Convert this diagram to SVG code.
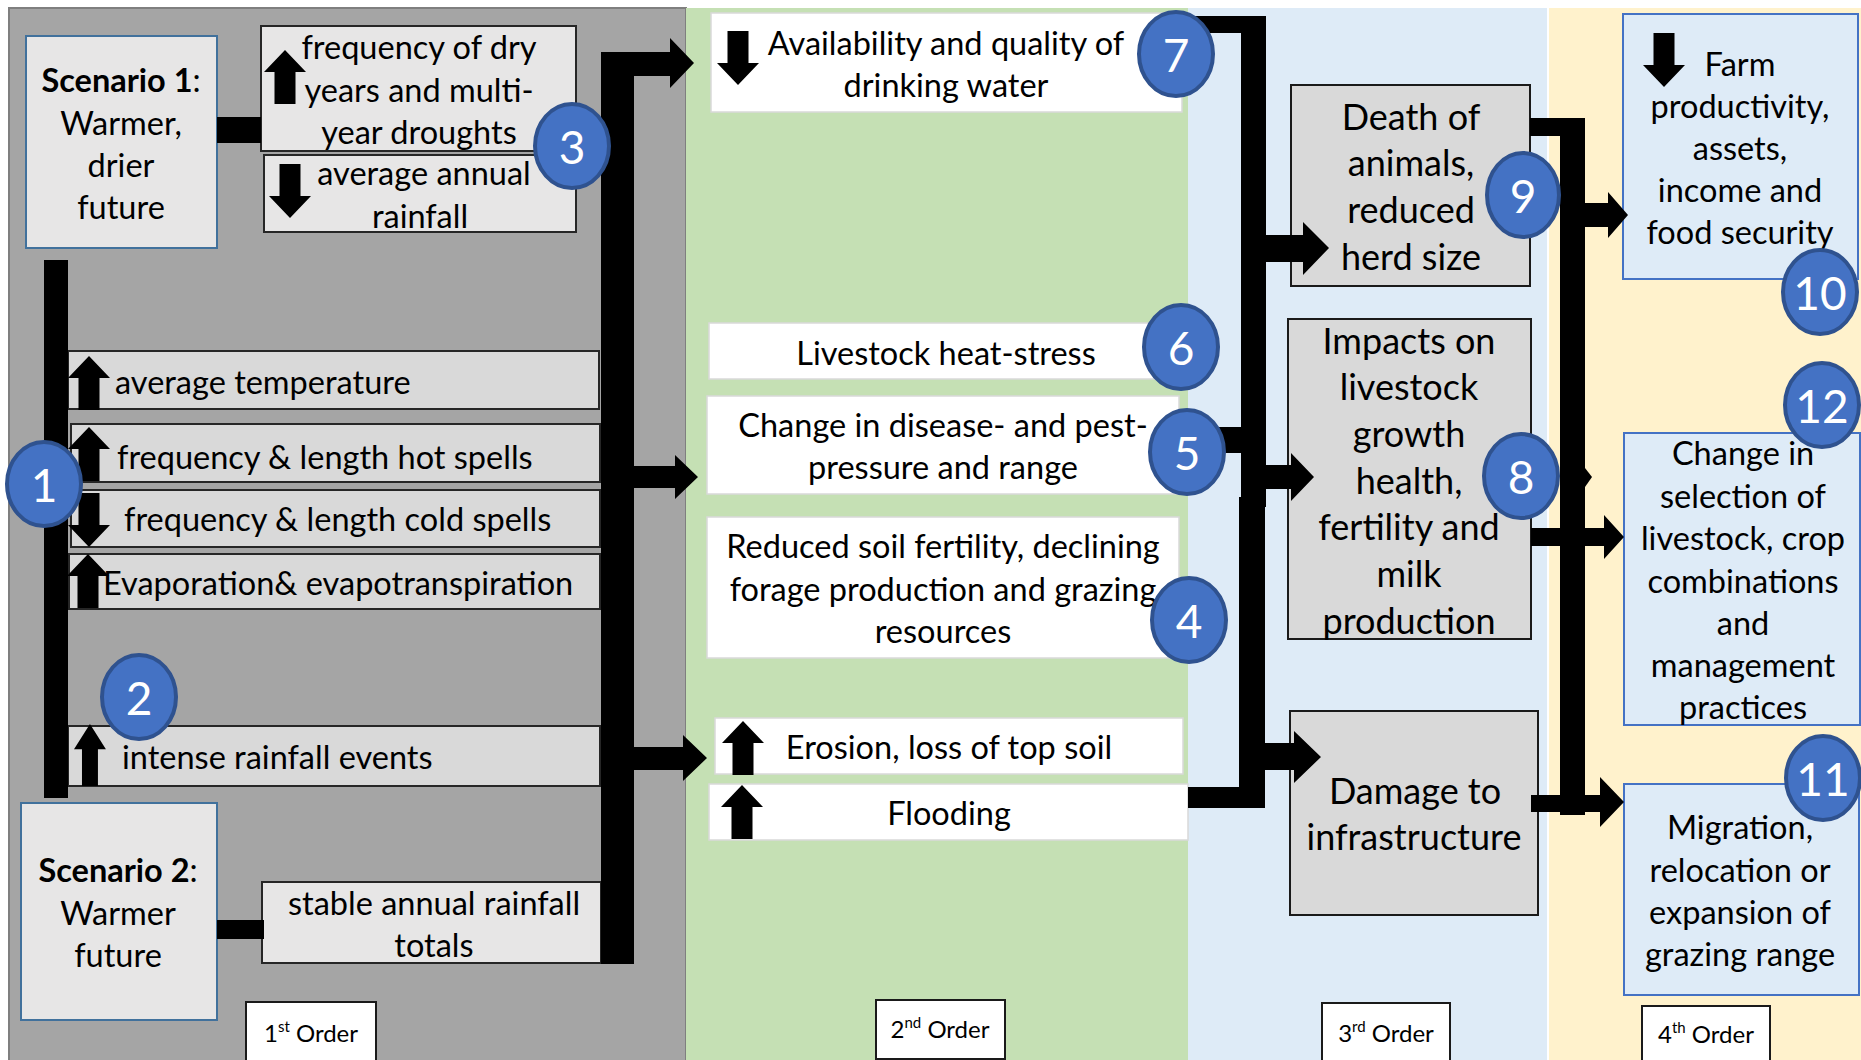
<svg xmlns="http://www.w3.org/2000/svg" xmlns:xlink="http://www.w3.org/1999/xlink" width="1861" height="1060" viewBox="0 0 1861 1060">
<style>
.t{font-family:Lato,"Noto Sans","Liberation Sans",sans-serif;font-size:32.5px;fill:#000}
.c{text-anchor:middle}
.b{font-weight:bold}
.big{font-size:36px}
.num{font-family:Lato,"Noto Sans","Liberation Sans",sans-serif;font-size:46px;fill:#fff;text-anchor:middle}
.ord{font-family:Lato,"Noto Sans","Liberation Sans",sans-serif;font-size:24px;fill:#000;text-anchor:middle}
.row{fill:#d9d9d9;stroke:#262626;stroke-width:2}
.lt{fill:#e7e6e6;stroke:#262626;stroke-width:2}
.scen{fill:#e7e6e6;stroke:#41719c;stroke-width:2}
.wh{fill:#fff;stroke:#d9d9d9;stroke-width:1.5}
.g3{fill:#d9d9d9;stroke:#1a1a1a;stroke-width:2}
.b4{fill:#deebf7;stroke:#4472c4;stroke-width:2}
.ob{fill:#fff;stroke:#1a1a1a;stroke-width:2}
.badge{fill:#4472c4;stroke:#2f528f;stroke-width:4}
</style>
<defs>
<path id="au" d="M21 0L42 22H31.5V54H10.5V22H0Z" fill="#000"/>
<path id="ad" d="M10.5 0H31.5V32H42L21 54L0 32H10.5Z" fill="#000"/>
</defs>

<g id="panels">
<rect x="0" y="0" width="1861" height="1060" fill="#fff"/>
<rect x="9" y="8" width="677" height="1060" fill="#a5a5a5" stroke="#7f7f7f" stroke-width="2"/>
<rect x="686" y="8" width="502" height="1060" fill="#c5e0b4"/>
<rect x="1188" y="8" width="359" height="1060" fill="#deebf7"/>
<rect x="1549" y="8" width="312" height="1060" fill="#fff2cc"/>
</g>

<g id="node-scenario1">
<rect class="scen" x="26" y="36" width="191" height="212"/>
<text class="t c" x="121" y="92"><tspan class="b">Scenario 1</tspan>:</text>
<text class="t c" x="121" y="135">Warmer,</text>
<text class="t c" x="121" y="177">drier</text>
<text class="t c" x="121" y="219">future</text>
</g>

<g id="node-dry-years">
<rect class="lt" x="261" y="26" width="315" height="125"/>
<use xlink:href="#au" x="264" y="50"/>
<text class="t c" x="419" y="59">frequency of dry</text>
<text class="t c" x="419" y="102">years and multi-</text>
<text class="t c" x="419" y="144">year droughts</text>
</g>

<g id="node-annual-rainfall">
<rect class="lt" x="264" y="155" width="312" height="77"/>
<use xlink:href="#ad" x="269" y="164"/>
<text class="t c" x="424" y="185">average annual</text>
<text class="t c" x="420" y="228">rainfall</text>
</g>

<g id="node-avg-temp">
<rect class="row" x="68" y="351" width="531" height="58"/>
<use xlink:href="#au" x="68" y="356"/>
<text class="t" x="115" y="394">average temperature</text>
</g>

<g id="node-hot-spells">
<rect class="row" x="71" y="424" width="529" height="58"/>
<use xlink:href="#au" x="68" y="427"/>
<text class="t" x="117" y="469">frequency &amp; length hot spells</text>
</g>

<g id="node-cold-spells">
<rect class="row" x="71" y="490" width="529" height="57"/>
<use xlink:href="#ad" x="68" y="493"/>
<text class="t" x="124" y="531">frequency &amp; length cold spells</text>
</g>

<g id="node-evaporation">
<rect class="row" x="69" y="554" width="531" height="55"/>
<use xlink:href="#au" x="67" y="554"/>
<text class="t" x="103" y="595">Evaporation&amp; evapotranspiration</text>
</g>

<g id="node-intense-rainfall">
<rect class="row" x="68" y="726" width="532" height="60"/>
<use xlink:href="#au" transform="translate(74 724) scale(0.76 1.15)"/>
<text class="t" x="122" y="769">intense rainfall events</text>
</g>

<g id="node-scenario2">
<rect class="scen" x="21" y="803" width="196" height="217"/>
<text class="t c" x="118" y="882"><tspan class="b">Scenario 2</tspan>:</text>
<text class="t c" x="118" y="925">Warmer</text>
<text class="t c" x="118" y="967">future</text>
</g>

<g id="node-stable-rainfall">
<rect class="lt" x="262" y="882" width="339" height="81"/>
<text class="t c" x="434" y="915">stable annual rainfall</text>
<text class="t c" x="434" y="957">totals</text>
</g>

<g id="node-order1">
<rect class="ob" x="246" y="1002" width="130" height="70"/>
<text class="ord" x="311" y="1042">1<tspan font-size="15" dy="-10">st</tspan><tspan dy="10"> Order</tspan></text>
</g>

<g id="node-drinking-water">
<rect class="wh" x="711" y="13" width="471" height="99"/>
<use xlink:href="#ad" x="717" y="31"/>
<text class="t c" x="946" y="55">Availability and quality of</text>
<text class="t c" x="946" y="97">drinking water</text>
</g>

<g id="node-heat-stress">
<rect class="wh" x="709" y="323" width="449" height="56"/>
<text class="t c" x="946" y="365">Livestock heat-stress</text>
</g>

<g id="node-disease">
<rect class="wh" x="707" y="396" width="472" height="98"/>
<text class="t c" x="943" y="437">Change in disease- and pest-</text>
<text class="t c" x="943" y="479">pressure and range</text>
</g>

<g id="node-soil">
<rect class="wh" x="707" y="517" width="472" height="141"/>
<text class="t c" x="943" y="558">Reduced soil fertility, declining</text>
<text class="t c" x="943" y="601">forage production and grazing</text>
<text class="t c" x="943" y="643">resources</text>
</g>

<g id="node-erosion">
<rect class="wh" x="715" y="718" width="468" height="56"/>
<use xlink:href="#au" x="722" y="721"/>
<text class="t c" x="949" y="759">Erosion, loss of top soil</text>
</g>

<g id="node-flooding">
<rect class="wh" x="709" y="784" width="479" height="56"/>
<use xlink:href="#au" x="721" y="785"/>
<text class="t c" x="949" y="825">Flooding</text>
</g>

<g id="node-order2">
<rect class="ob" x="876" y="1000" width="129" height="59"/>
<text class="ord" x="940" y="1038">2<tspan font-size="15" dy="-10">nd</tspan><tspan dy="10"> Order</tspan></text>
</g>

<g id="node-death">
<rect class="g3" x="1291" y="85" width="239" height="201"/>
<text class="t c big" x="1411" y="130">Death of</text>
<text class="t c big" x="1411" y="176">animals,</text>
<text class="t c big" x="1411" y="223">reduced</text>
<text class="t c big" x="1411" y="270">herd size</text>
</g>

<g id="node-impacts">
<rect class="g3" x="1288" y="319" width="243" height="320"/>
<text class="t c big" x="1409" y="354">Impacts on</text>
<text class="t c big" x="1409" y="400">livestock</text>
<text class="t c big" x="1409" y="447">growth</text>
<text class="t c big" x="1409" y="494">health,</text>
<text class="t c big" x="1409" y="540">fertility and</text>
<text class="t c big" x="1409" y="587">milk</text>
<text class="t c big" x="1409" y="634">production</text>
</g>

<g id="node-damage">
<rect class="g3" x="1290" y="711" width="248" height="204"/>
<text class="t c big" x="1415" y="804">Damage to</text>
<text class="t c big" x="1414" y="850">infrastructure</text>
</g>

<g id="node-order3">
<rect class="ob" x="1322" y="1003" width="128" height="70"/>
<text class="ord" x="1386" y="1042">3<tspan font-size="15" dy="-10">rd</tspan><tspan dy="10"> Order</tspan></text>
</g>

<g id="node-farm">
<rect class="b4" x="1623" y="14" width="235" height="265"/>
<use xlink:href="#ad" x="1643" y="33"/>
<text class="t c" x="1740" y="76">Farm</text>
<text class="t c" x="1740" y="118">productivity,</text>
<text class="t c" x="1740" y="160">assets,</text>
<text class="t c" x="1740" y="202">income and</text>
<text class="t c" x="1740" y="244">food security</text>
</g>

<g id="node-change">
<rect class="b4" x="1624" y="433" width="236" height="292"/>
<text class="t c" x="1743" y="465">Change in</text>
<text class="t c" x="1743" y="508">selection of</text>
<text class="t c" x="1743" y="550">livestock, crop</text>
<text class="t c" x="1743" y="593">combinations</text>
<text class="t c" x="1743" y="635">and</text>
<text class="t c" x="1743" y="677">management</text>
<text class="t c" x="1743" y="719">practices</text>
</g>

<g id="node-migration">
<rect class="b4" x="1624" y="784" width="235" height="211"/>
<text class="t c" x="1740" y="839">Migration,</text>
<text class="t c" x="1740" y="882">relocation or</text>
<text class="t c" x="1740" y="924">expansion of</text>
<text class="t c" x="1740" y="966">grazing range</text>
</g>

<g id="node-order4">
<rect class="ob" x="1642" y="1006" width="128" height="70"/>
<text class="ord" x="1706" y="1043">4<tspan font-size="15" dy="-10">th</tspan><tspan dy="10"> Order</tspan></text>
</g>

<g id="connectors" fill="#000">
<rect x="217" y="117" width="44" height="26"/>
<rect x="44" y="260" width="24" height="538"/>
<rect x="217" y="920" width="47" height="19"/>
<path d="M601 52H670V38L694 63L670 88V76H634V964H601Z"/>
<path d="M634 466H675V455L698 477L675 499V488H634Z"/>
<path d="M634 747H683V735L707 758L683 781V770H634Z"/>
<path d="M1187 16H1266V507H1241V33H1187Z"/>
<rect x="1186" y="427" width="55" height="26"/>
<rect x="1239" y="497" width="26" height="311"/>
<rect x="1188" y="787" width="77" height="21"/>
<path d="M1266 235H1303V222L1329 248L1303 275V262H1266Z"/>
<path d="M1265 465H1291V453L1314 477L1291 501V489H1265Z"/>
<path d="M1265 743H1294V731L1321 757L1294 783V770H1265Z"/>
<path d="M1530 118H1585V815H1560V136H1530Z"/>
<path d="M1531 528H1604V515L1624 537L1604 559V546H1531Z"/>
<path d="M1585 203H1608V192L1628 215L1608 238V227H1585Z"/>
<path d="M1531 795H1600V777L1624 802L1600 827V812H1531Z"/>
<path d="M1585 468L1592 477L1585 487Z"/>
</g>

<g id="badge-1"><ellipse class="badge" cx="44" cy="484" rx="37" ry="42"/><text class="num" x="44" y="502">1</text></g>
<g id="badge-2"><ellipse class="badge" cx="139" cy="697" rx="37" ry="42"/><text class="num" x="139" y="715">2</text></g>
<g id="badge-3"><ellipse class="badge" cx="572" cy="146" rx="37" ry="42"/><text class="num" x="572" y="164">3</text></g>
<g id="badge-4"><ellipse class="badge" cx="1189" cy="620" rx="37" ry="42"/><text class="num" x="1189" y="638">4</text></g>
<g id="badge-5"><ellipse class="badge" cx="1187" cy="452" rx="37" ry="42"/><text class="num" x="1187" y="470">5</text></g>
<g id="badge-6"><ellipse class="badge" cx="1181" cy="347" rx="37" ry="42"/><text class="num" x="1181" y="365">6</text></g>
<g id="badge-7"><ellipse class="badge" cx="1176" cy="54" rx="37" ry="42"/><text class="num" x="1176" y="72">7</text></g>
<g id="badge-8"><ellipse class="badge" cx="1521" cy="476" rx="37" ry="42"/><text class="num" x="1521" y="494">8</text></g>
<g id="badge-9"><ellipse class="badge" cx="1523" cy="195" rx="36" ry="42"/><text class="num" x="1523" y="213">9</text></g>
<g id="badge-10"><ellipse class="badge" cx="1820" cy="292" rx="37" ry="42"/><text class="num" x="1820" y="310">10</text></g>
<g id="badge-11"><ellipse class="badge" cx="1823" cy="778" rx="37" ry="42"/><text class="num" x="1823" y="796">11</text></g>
<g id="badge-12"><ellipse class="badge" cx="1822" cy="405" rx="37" ry="42"/><text class="num" x="1822" y="423">12</text></g>
</svg>
